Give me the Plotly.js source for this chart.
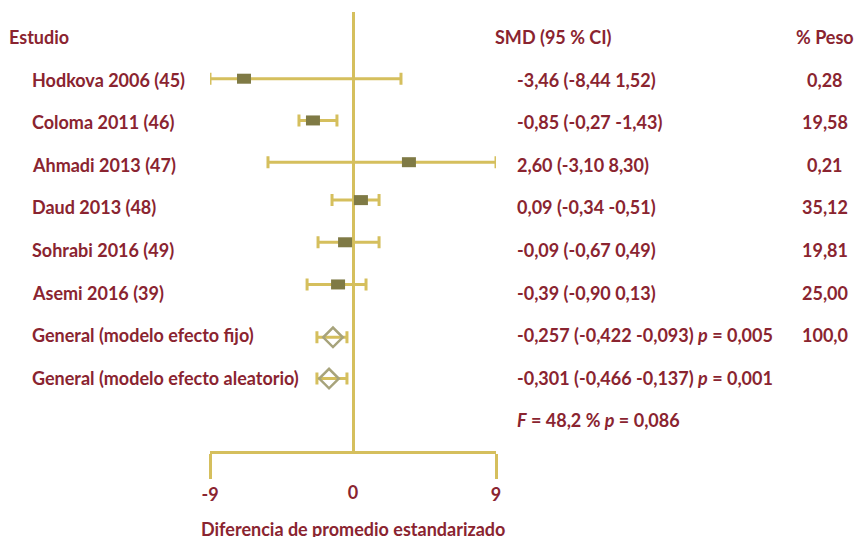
<!DOCTYPE html>
<html>
<head>
<meta charset="utf-8">
<script src="https://cdn.plot.ly/plotly-3.0.1.min.js"></script>
<style>html,body{margin:0;padding:0;background:#fff;}#chart{width:855px;height:537px;}</style>
</head>
<body>
<div id="chart"></div>
<script>
// Study labels and reported statistics
const studies = ['Hodkova 2006 (45)', 'Coloma 2011 (46)', 'Ahmadi 2013 (47)', 'Daud 2013 (48)', 'Sohrabi 2016 (49)', 'Asemi 2016 (39)'];
const pooled = ['General (modelo efecto fijo)', 'General (modelo efecto aleatorio)'];
const smdText = ['-3,46 (-8,44 1,52)', '-0,85 (-0,27 -1,43)', '2,60 (-3,10 8,30)', '0,09 (-0,34 -0,51)', '-0,09 (-0,67 0,49)', '-0,39 (-0,90 0,13)',
  '-0,257 (-0,422 -0,093) <i>p</i> = 0,005', '-0,301 (-0,466 -0,137) <i>p</i> = 0,001'];
const pesoText = ['0,28', '19,58', '0,21', '35,12', '19,81', '25,00', '100,0', ''];
const footText = '<i>F</i> = 48,2 % <i>p</i> = 0,086';
const headers = {study: 'Estudio', smd: 'SMD (95 % CI)', peso: '% Peso'};
const axisTitle = 'Diferencia de promedio estandarizado';

// Plotted positions as drawn in the figure (axis units)
const studyCenter = [-6.86, -2.52, 3.52, 0.50, -0.50, -0.94];
const studyLow    = [-9.00, -3.40, -5.35, -1.32, -2.20, -2.89];
const studyHigh   = [ 3.02, -1.01,  9.00,  1.64,  1.64,  0.82];
const studyRow    = [0.98, 1.96, 2.94, 3.83, 4.82, 5.81];
const pooledCenter = [-1.26, -1.51];
const pooledLow    = [-2.27, -2.27];
const pooledHigh   = [-0.38, -0.38];
const pooledRow    = [7.05, 8.02];

const textRows = [1, 2, 3, 4, 5, 6, 7, 8];
const footRow = 9;
const xTicks = [-9, 9];
const xTickLabels = ['-9', '9'];
const xMidTick = [0];
const xMidLabel = ['0'];

const gold = '#d5bf5d';
const olive = '#7f7a45';
const diamondCol = '#a7a37b';
const red = '#8a2430';
const FONT = 'Lato, "Noto Sans", sans-serif';
const fs = 18;

const traces = [
  {
    type: 'scatter', mode: 'markers', x: studyCenter, y: studyRow,
    marker: {symbol: 'line-ew', size: 10, color: olive, line: {color: olive, width: 10}},
    error_x: {type: 'data', symmetric: false,
      array: studyHigh.map((h, i) => h - studyCenter[i]),
      arrayminus: studyCenter.map((c, i) => c - studyLow[i]),
      color: gold, thickness: 3, width: 6},
    hoverinfo: 'skip', showlegend: false
  },
  {
    type: 'scatter', mode: 'markers', x: pooledCenter, y: pooledRow,
    marker: {symbol: 'diamond-open', size: 15, color: diamondCol, line: {color: diamondCol, width: 2.5}},
    error_x: {type: 'data', symmetric: false,
      array: pooledHigh.map((h, i) => h - pooledCenter[i]),
      arrayminus: pooledCenter.map((c, i) => c - pooledLow[i]),
      color: gold, thickness: 3, width: 6},
    hoverinfo: 'skip', showlegend: false
  },
  {
    type: 'scatter', mode: 'markers', x: xMidTick, y: [footRow], xaxis: 'x2',
    marker: {opacity: 0}, hoverinfo: 'skip', showlegend: false
  }
];

const annotations = [];
const tf = (c) => ({family: FONT, size: fs, color: c || red, weight: 700});
function ann(text, x, y, anchor) {
  annotations.push({text: text, xref: 'paper', yref: 'y', x: x, y: y, xanchor: anchor || 'left', yanchor: 'middle',
    showarrow: false, font: tf(), borderpad: 0});
}
ann('<b>' + headers.study + '</b>', 8 / 855, 0);
ann('<b>' + headers.smd + '</b>', 494 / 855, 0);
ann('<b>' + headers.peso + '</b>', 825 / 855, 0, 'center');
studies.concat(pooled).forEach((s, i) => ann('<b>' + s + '</b>', 31 / 855, textRows[i]));
smdText.forEach((s, i) => ann('<b>' + s + '</b>', 516 / 855, textRows[i]));
pesoText.forEach((s, i) => { if (s) ann('<b>' + s + '</b>', 825 / 855, textRows[i], 'center'); });
ann('<b>' + footText + '</b>', 516 / 855, footRow);
// x-axis title, placed just below the tick labels
annotations.push({text: '<b>' + axisTitle + '</b>', xref: 'x', yref: 'paper', x: 0, y: -0.178,
  xanchor: 'center', yanchor: 'middle', showarrow: false, font: tf(), borderpad: 0});

const dom = [210 / 855, 496 / 855];
const layout = {
  width: 855, height: 537,
  margin: {l: 0, r: 0, t: 12, b: 86, pad: 0},
  paper_bgcolor: '#fff', plot_bgcolor: 'rgba(0,0,0,0)',
  showlegend: false,
  xaxis: {
    domain: dom, range: [-9, 9], fixedrange: true,
    showgrid: false, zeroline: true, zerolinecolor: gold, zerolinewidth: 3,
    showline: true, linecolor: gold, linewidth: 3,
    tickmode: 'array', tickvals: xTicks, ticktext: xTickLabels.map(t => '<b>' + t + '</b>'),
    ticks: 'outside', ticklen: 25, tickwidth: 3, tickcolor: gold,
    tickfont: tf()
  },
  xaxis2: {
    domain: dom, range: [-9, 9], overlaying: 'x', anchor: 'y', side: 'bottom', fixedrange: true,
    showgrid: false, zeroline: false, showline: false,
    tickmode: 'array', tickvals: xMidTick, ticktext: xMidLabel.map(t => '<b>' + t + '</b>'),
    ticks: 'outside', ticklen: 25, tickwidth: 3, tickcolor: 'rgba(0,0,0,0)',
    tickfont: tf()
  },
  yaxis: {
    range: [9.72, -0.586], showgrid: false, zeroline: false, showline: false,
    showticklabels: false, ticks: '', fixedrange: true
  },
  annotations: annotations
};

Plotly.newPlot('chart', traces, layout, {displayModeBar: false, staticPlot: true});
</script>
</body>
</html>
